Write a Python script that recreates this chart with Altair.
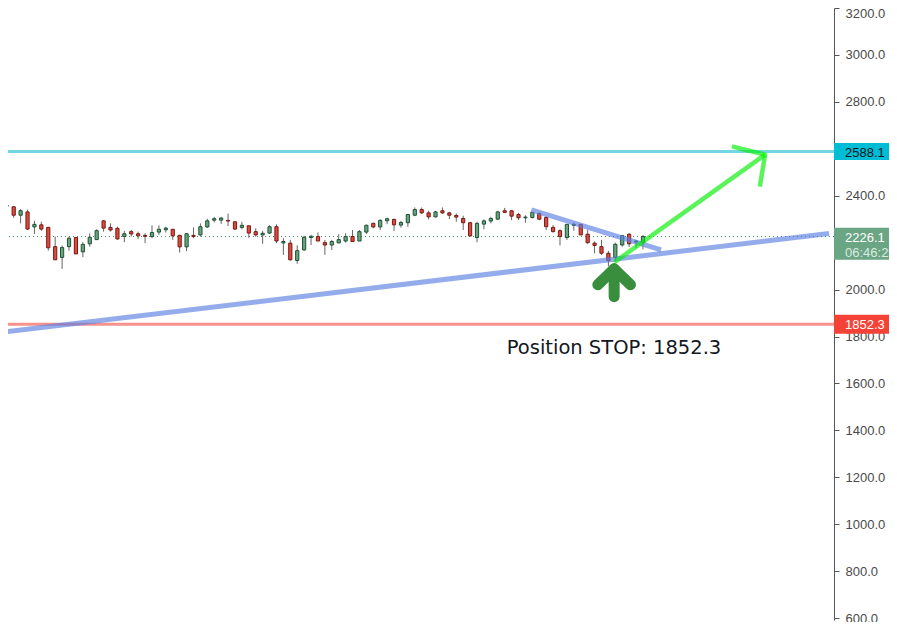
import altair as alt
import pandas as pd

# ---- candle data ----
opens = [2356, 2353, 2317, 2331, 2267, 2276, 2265, 2183, 2137, 2183,
         2222, 2161, 2195, 2213, 2293, 2265, 2261, 2226, 2247, 2238,
         2231, 2226, 2245, 2255, 2257, 2231, 2182, 2231, 2233, 2267,
         2296, 2296, 2295, 2289, 2265, 2272, 2247, 2233, 2241, 2268,
         2199, 2198, 2124, 2169, 2222, 2226, 2200, 2190, 2199, 2207,
         2226, 2207, 2245, 2282, 2267, 2293, 2299, 2275, 2285, 2317,
         2341, 2327, 2310, 2336, 2327, 2316, 2303, 2285, 2222, 2279,
         2292, 2300, 2336, 2336, 2320, 2306, 2307, 2324, 2307, 2265,
         2251, 2222, 2274, 2278, 2236, 2198, 2183, 2155, 2137, 2190,
         2236, 2203, 2200]
highs = [2371, 2353, 2343, 2341, 2293, 2289, 2268, 2226, 2188, 2226,
         2224, 2202, 2240, 2257, 2296, 2282, 2268, 2250, 2254, 2247,
         2240, 2274, 2274, 2268, 2257, 2234, 2240, 2265, 2282, 2302,
         2310, 2310, 2324, 2289, 2289, 2272, 2261, 2250, 2274, 2278,
         2219, 2212, 2189, 2229, 2233, 2244, 2212, 2212, 2236, 2240,
         2254, 2254, 2277, 2286, 2300, 2307, 2303, 2293, 2320, 2350,
         2350, 2336, 2336, 2350, 2331, 2324, 2315, 2289, 2289, 2299,
         2310, 2336, 2348, 2339, 2327, 2317, 2331, 2329, 2313, 2275,
         2257, 2278, 2286, 2278, 2254, 2205, 2212, 2165, 2200, 2233,
         2240, 2212, 2233]
lows = [2331, 2306, 2282, 2254, 2237, 2250, 2166, 2127, 2088, 2166,
        2152, 2138, 2183, 2212, 2247, 2247, 2212, 2202, 2226, 2216,
        2198, 2219, 2233, 2243, 2212, 2158, 2164, 2219, 2226, 2262,
        2286, 2279, 2271, 2254, 2257, 2221, 2226, 2195, 2237, 2198,
        2148, 2123, 2110, 2165, 2190, 2207, 2148, 2169, 2198, 2200,
        2205, 2207, 2237, 2261, 2254, 2279, 2250, 2264, 2267, 2313,
        2322, 2299, 2307, 2322, 2300, 2289, 2254, 2226, 2202, 2257,
        2282, 2299, 2329, 2296, 2296, 2285, 2303, 2296, 2254, 2243,
        2188, 2212, 2251, 2233, 2195, 2155, 2148, 2099, 2120, 2183,
        2181, 2176, 2172]
closes = [2358, 2317, 2336, 2258, 2278, 2258, 2178, 2127, 2179, 2219,
          2152, 2193, 2223, 2251, 2262, 2254, 2216, 2238, 2237, 2229,
          2227, 2243, 2257, 2262, 2229, 2182, 2238, 2226, 2268, 2293,
          2302, 2305, 2292, 2258, 2274, 2241, 2233, 2240, 2268, 2207,
          2205, 2127, 2166, 2223, 2227, 2207, 2190, 2205, 2213, 2226,
          2205, 2247, 2274, 2267, 2295, 2302, 2276, 2286, 2320, 2341,
          2327, 2310, 2331, 2327, 2317, 2309, 2285, 2229, 2282, 2293,
          2303, 2331, 2329, 2313, 2306, 2309, 2329, 2300, 2268, 2247,
          2226, 2278, 2278, 2233, 2200, 2188, 2155, 2123, 2193, 2230,
          2195, 2207, 2226]

# ---- drawn levels / annotations ----
target_level = 2588.1
stop_level = 1852.3
last_price = 2226.1
countdown = "06:46:29"
stop_text = "Position STOP: 1852.3"
stop_text_pos = [73.3, 1727.0]
y_ticks = [600, 800, 1000, 1200, 1400, 1600, 1800, 2000, 2400, 2800, 3000, 3200]

support_x = [0.757, 119.9]
support_y = [1819.9, 2238.7]
wedge_x = [76.86, 95.61]
wedge_y = [2339.4, 2169.0]

# bright green target arrow: shaft start, tip, head arms
target_shaft_x = [88.86, 110.66]
target_shaft_y = [2116.8, 2575.1]
target_head_x = [105.86, 110.66, 109.9]
target_head_y = [2610.2, 2575.1, 2438.4]

# dark green up arrow
up_head_x = [86.47, 88.83, 91.19]
up_head_y = [2020.8, 2088.5, 2020.8]
up_shaft_x = [88.83, 88.83]
up_shaft_y = [2088.5, 1970.0]

# ---- layout ----
W, H = 826, 612
Y_DOMAIN = [592.0, 3200.0]
X_DOMAIN = [1.9, 119.9]
ppu = H / (Y_DOMAIN[1] - Y_DOMAIN[0])

xs = alt.Scale(domain=X_DOMAIN, nice=False, zero=False)
ys = alt.Scale(domain=Y_DOMAIN, nice=False, zero=False)
yaxis = alt.Axis(orient="right", values=y_ticks, format=".1f", grid=False,
                 title=None, labelFont="Liberation Sans", labelFontSize=13,
                 labelColor="#4a4a4a", tickColor="#555555", domainColor="#555555",
                 tickSize=5, labelPadding=6, labelFlush=True, labelFlushOffset=1,
                 labelOverlap=False)


def X(f):
    return alt.X(f, type="quantitative", scale=xs, axis=None)


def Y(f):
    return alt.Y(f, type="quantitative", scale=ys, axis=yaxis)


n = len(opens)
cdf = pd.DataFrame({
    "i": list(range(1, n + 1)),
    "o": opens, "h": highs, "l": lows, "c": closes,
})
cdf["top"] = cdf[["o", "c"]].max(axis=1)
cdf["bot"] = cdf[["o", "c"]].min(axis=1)
cdf["dir"] = ["up" if c >= o else "down" for o, c in zip(cdf["o"], cdf["c"])]

wicks = alt.Chart(cdf).mark_rule(color="#666666", strokeWidth=1, clip=True).encode(
    x=X("i"), y=Y("l"), y2="h")
bodies = alt.Chart(cdf).mark_bar(size=3.2, strokeWidth=1, clip=True, orient="vertical").encode(
    x=X("i"), y=Y("bot"), y2="top",
    fill=alt.Fill("dir:N", scale=alt.Scale(domain=["up", "down"], range=["#6aa583", "#de4a3d"]), legend=None),
    stroke=alt.Stroke("dir:N", scale=alt.Scale(domain=["up", "down"], range=["#1e5230", "#761a15"]), legend=None),
)

levels = pd.DataFrame({"v": [target_level, stop_level], "col": ["#72d6e3", "#f7928d"]})
level_rules = alt.Chart(levels).mark_rule(strokeWidth=3).encode(
    y=Y("v"), color=alt.Color("col:N", scale=None))

last_df = pd.DataFrame({"v": [last_price]})
last_rule = alt.Chart(last_df).mark_rule(strokeWidth=1, strokeDash=[1, 3], color="#3f8a5f").encode(
    y=Y("v"))

tl = pd.DataFrame({
    "x": support_x + wedge_x,
    "y": support_y + wedge_y,
    "seg": ["support"] * 2 + ["wedge"] * 2,
    "o": [0, 1, 0, 1],
})
trendlines = alt.Chart(tl).mark_line(color="#5b7fe0", opacity=0.65, strokeWidth=5, clip=True).encode(
    x=X("x"), y=Y("y"), detail="seg:N", order="o:Q")

ta = pd.DataFrame({
    "x": target_shaft_x + target_head_x,
    "y": target_shaft_y + target_head_y,
    "seg": ["shaft"] * 2 + ["head"] * 3,
    "o": [0, 1, 0, 1, 2],
})
target_arrow = alt.Chart(ta).mark_line(color="#00ee00", opacity=0.65, strokeWidth=4.5,
                                       strokeJoin="round", clip=True).encode(
    x=X("x"), y=Y("y"), detail="seg:N", order="o:Q")

ua = pd.DataFrame({
    "x": up_head_x + up_shaft_x,
    "y": up_head_y + up_shaft_y,
    "seg": ["head"] * 3 + ["shaft"] * 2,
    "o": [0, 1, 2, 0, 1],
})
up_arrow = alt.Chart(ua).mark_line(color="#388e3c", strokeWidth=11, strokeCap="round",
                                   strokeJoin="round", clip=True).encode(
    x=X("x"), y=Y("y"), detail="seg:N", order="o:Q")

stop_df = pd.DataFrame({"x": [stop_text_pos[0]], "y": [stop_text_pos[1]], "t": [stop_text]})
stop_label = alt.Chart(stop_df).mark_text(align="left", baseline="alphabetic", font="DejaVu Sans",
                                          fontSize=19.5, color="#131722").encode(
    x=X("x"), y=Y("y"), text="t:N")

# price boxes on the axis
boxes = pd.DataFrame({
    "v": [target_level, last_price, stop_level],
    "up": [8.5, 8.7, 9.5],
    "down": [8.5, 23.3, 9.5],
    "fill": ["#00bcd4", "#6aa584", "#f44336"],
    "t": [f"{target_level:.1f}", f"{last_price:.1f}", f"{stop_level:.1f}"],
    "tc": ["#131722", "#ffffff", "#ffffff"],
})
boxes["top"] = boxes["v"] + boxes["up"] / ppu
boxes["bot"] = boxes["v"] - boxes["down"] / ppu
box_rects = alt.Chart(boxes).mark_rect().encode(
    x=alt.value(W), x2=alt.value(W + 61), y=Y("top"), y2="bot",
    color=alt.Color("fill:N", scale=None))
box_text = alt.Chart(boxes).mark_text(align="left", baseline="middle", font="Liberation Sans",
                                      fontSize=13, dy=1).encode(
    x=alt.value(W + 11), y=Y("v"), text="t:N", color=alt.Color("tc:N", scale=None))
cd_df = pd.DataFrame({"v": [last_price], "t": [countdown]})
cd_text = alt.Chart(cd_df).mark_text(align="left", baseline="middle", font="Liberation Sans",
                                     fontSize=13, dy=16, color="#dcebe2").encode(
    x=alt.value(W + 11), y=Y("v"), text="t:N")

chart = alt.layer(
    last_rule, level_rules, wicks, bodies, trendlines, target_arrow, up_arrow,
    stop_label, box_rects, box_text, cd_text
).properties(
    width=W, height=H,
    autosize=alt.AutoSizeParams(type="none"),
    padding={"left": 0, "top": 0, "right": 55, "bottom": 2},
    background="#ffffff",
).configure_view(stroke=None)

chart.save("out.html", embed_options={"renderer": "svg", "actions": False})
